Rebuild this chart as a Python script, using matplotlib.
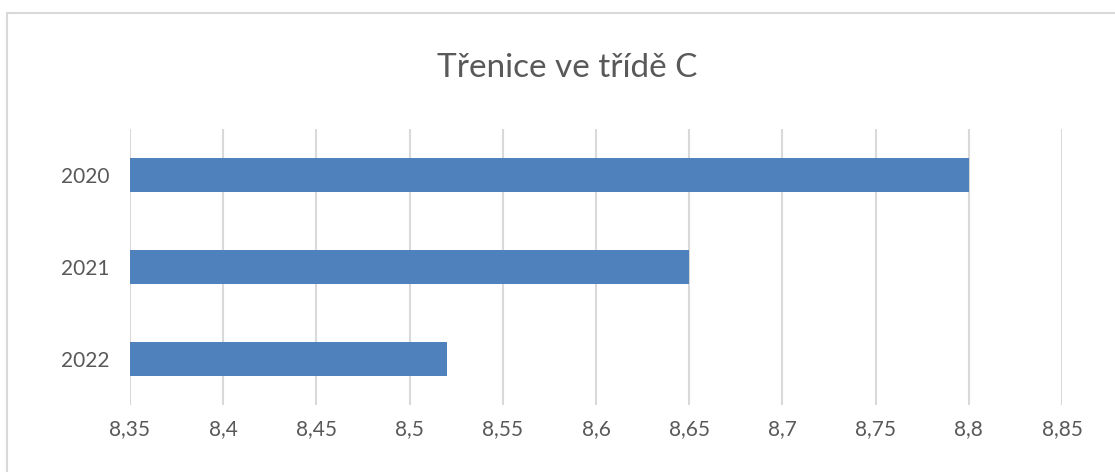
import matplotlib.pyplot as plt
from matplotlib.patches import Rectangle
from matplotlib.ticker import FuncFormatter, MultipleLocator

years = ["2020", "2021", "2022"]
values = [8.8, 8.65, 8.52]

W, H = 1115, 472
fig = plt.figure(figsize=(W / 100, H / 100), dpi=100)
plt.rcParams['font.family'] = ['Lato', 'DejaVu Sans']

# chart frame (left and top edges visible)
fig.patches.append(Rectangle((7 / W, -0.1), 1.2, 1 - 13 / H + 0.1,
                             transform=fig.transFigure, fill=False,
                             edgecolor="#d9d9d9", linewidth=1.5))

ax = fig.add_axes([130 / W, 1 - 405 / H, (1062 - 130) / W, (405 - 129) / H])
pos = list(range(len(years)))[::-1]
ax.barh(pos, [v - 8.35 for v in values], left=8.35, height=0.36, color="#4f81bd", zorder=2)

ax.set_xlim(8.35, 8.85)
ax.set_ylim(-0.5, 2.5)
ax.xaxis.set_major_locator(MultipleLocator(0.05))
ax.xaxis.set_major_formatter(FuncFormatter(lambda x, p: f"{x:.2f}".rstrip("0").rstrip(".").replace(".", ",")))
ax.set_yticks(pos)
ax.set_yticklabels(years)
ax.grid(axis="x", color="#d9d9d9", linewidth=1.5, zorder=0)
for s in ax.spines.values():
    s.set_visible(False)
ax.tick_params(length=0, labelsize=15, labelcolor="#595959")
ax.tick_params(axis="x", pad=10)
ax.tick_params(axis="y", pad=15)

fig.text(567 / W, 1 - 68 / H, "Třenice ve třídě C", ha="center", va="center",
         fontsize=24, color="#595959")

fig.savefig("out.png", dpi=100)
